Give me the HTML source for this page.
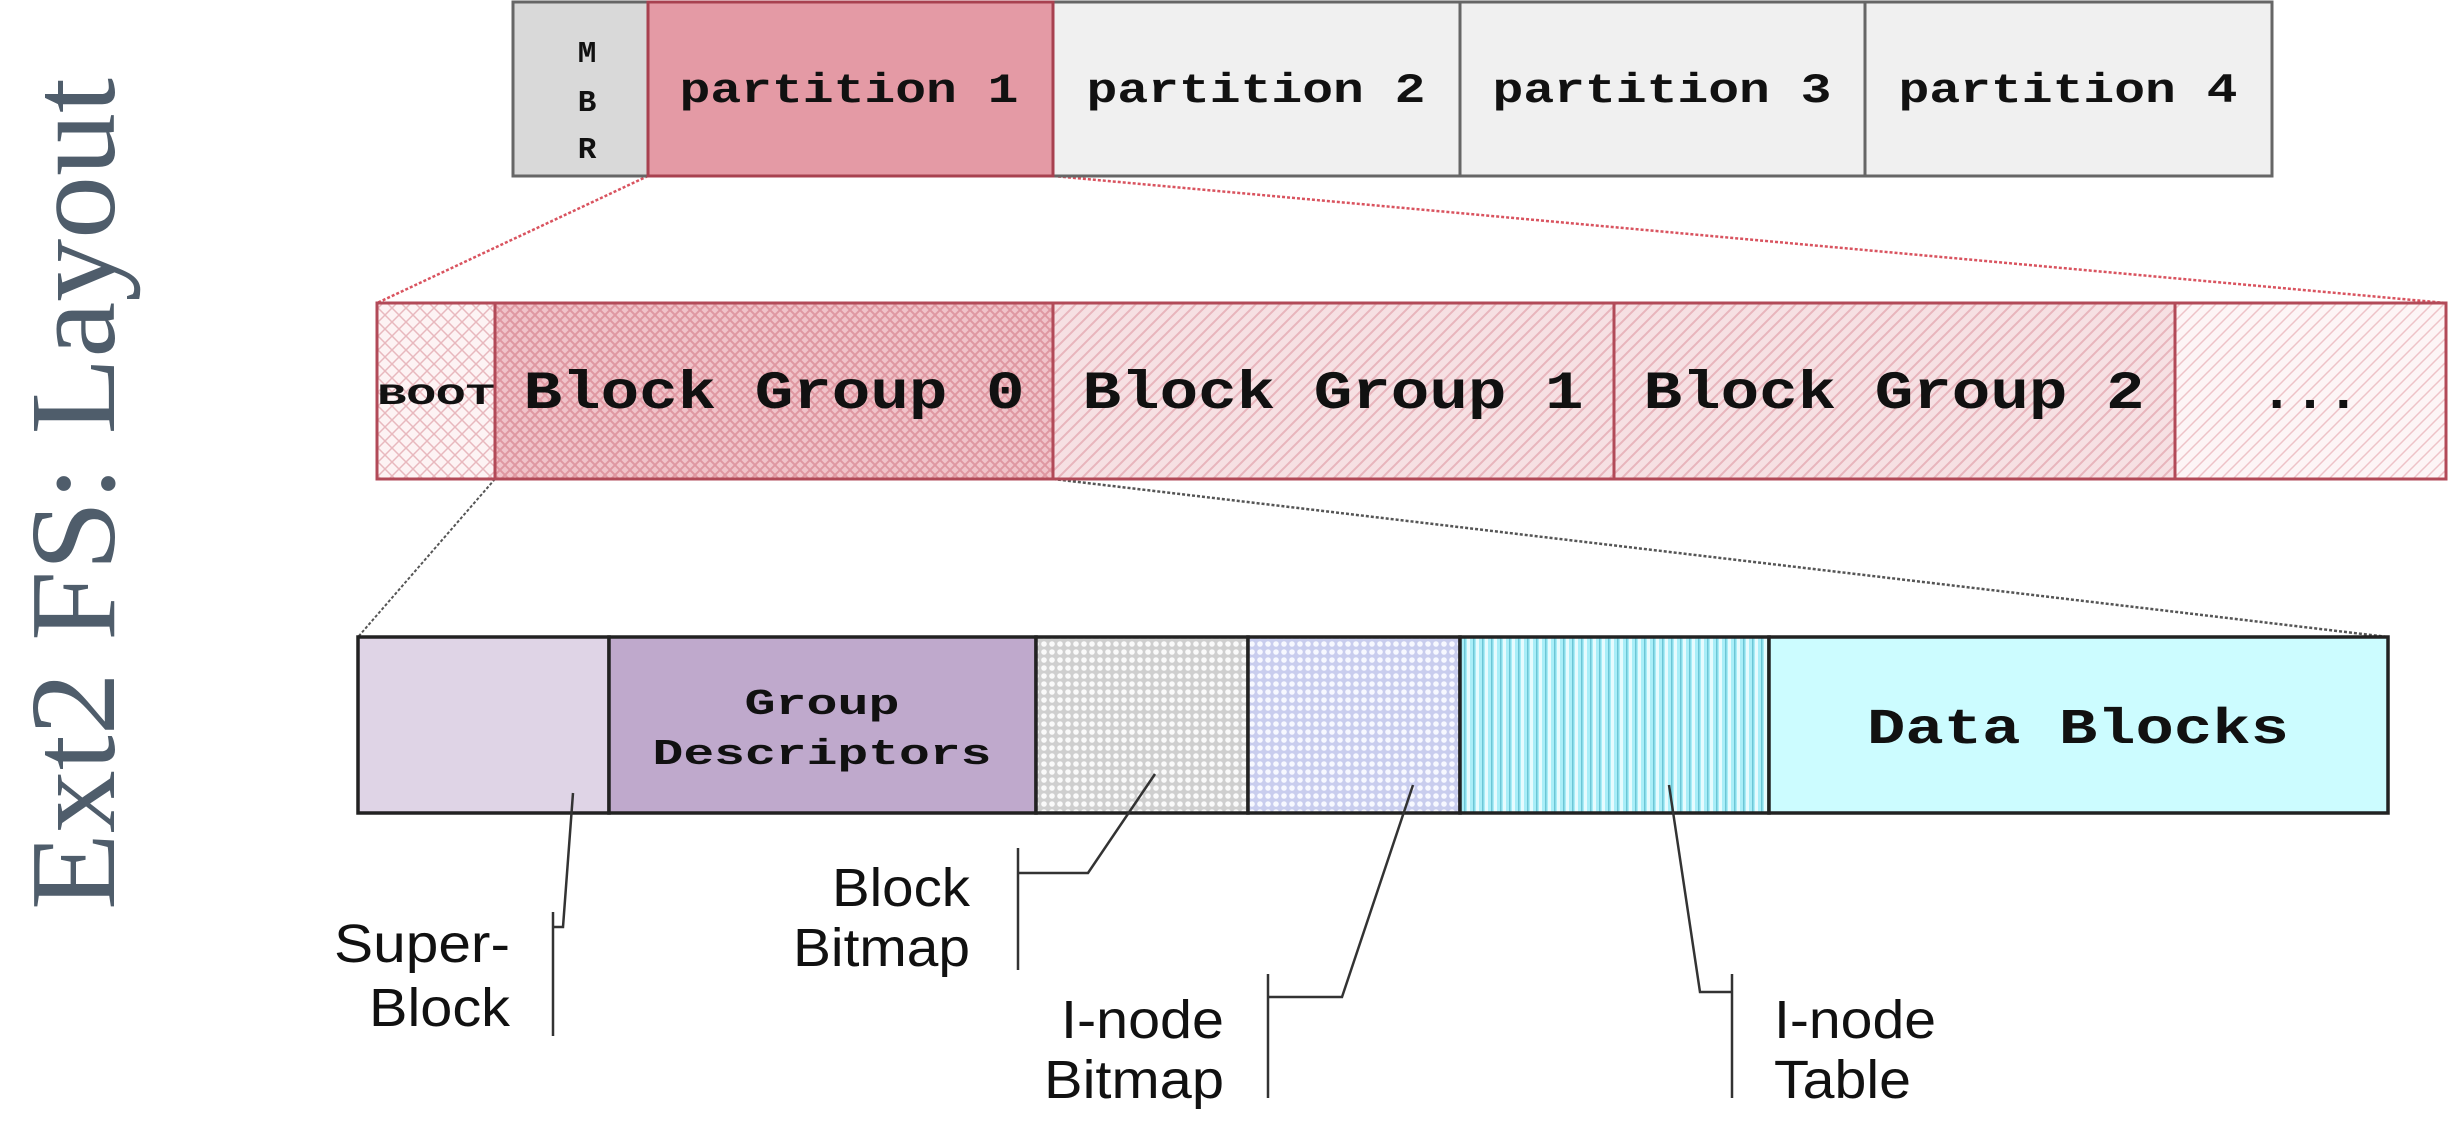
<!DOCTYPE html>
<html><head><meta charset="utf-8"><style>
html,body{margin:0;padding:0;background:#fff;}
svg{display:block;}
.m{font-family:"Liberation Mono",monospace;font-weight:bold;fill:#111;}
.s{font-family:"Liberation Sans",sans-serif;fill:#111;}
</style></head><body>
<svg width="2462" height="1136" viewBox="0 0 2462 1136" xmlns="http://www.w3.org/2000/svg">
<defs>
<pattern id="xh" width="14" height="14" patternUnits="userSpaceOnUse">
<rect width="14" height="14" fill="#fdf3f4"/><path d="M0 0L14 14M14 0L0 14" stroke="#e8b8be" stroke-width="1.5"/></pattern>
<pattern id="xd" width="10" height="10" patternUnits="userSpaceOnUse">
<rect width="10" height="10" fill="#f0c3c9"/><path d="M0 0L10 10M10 0L0 10" stroke="#df97a1" stroke-width="2"/></pattern>
<pattern id="dg" width="12" height="12" patternUnits="userSpaceOnUse">
<rect width="12" height="12" fill="#f6e0e3"/><path d="M-3 3L3 -3M0 12L12 0M9 15L15 9" stroke="#e8b5bc" stroke-width="2"/></pattern>
<pattern id="dw" width="12" height="12" patternUnits="userSpaceOnUse">
<rect width="12" height="12" fill="#fdf5f6"/><path d="M-3 3L3 -3M0 12L12 0M9 15L15 9" stroke="#eec3c8" stroke-width="1.5"/></pattern>
<pattern id="bb" width="8" height="8" patternUnits="userSpaceOnUse">
<rect width="8" height="8" fill="#cfcfcf"/><circle cx="4" cy="4" r="2.8" fill="#fafafa"/></pattern>
<pattern id="ib" width="8" height="8" patternUnits="userSpaceOnUse">
<rect width="8" height="8" fill="#c9cdee"/><circle cx="4" cy="4" r="2.8" fill="#f7f8ff"/></pattern>
<pattern id="it" width="9" height="10" patternUnits="userSpaceOnUse">
<rect width="9" height="10" fill="#a9eef8"/><rect x="0" width="3" height="10" fill="#e6fbfe"/><rect x="6" width="1.5" height="10" fill="#6cc6d6"/></pattern>
</defs>

<text transform="translate(114,910) rotate(-90)" font-family="Liberation Serif,serif" font-size="122" fill="#4f5d6b" textLength="832" lengthAdjust="spacingAndGlyphs">Ext2 FS: Layout</text>

<!-- connectors -->
<line x1="648" y1="176" x2="377" y2="303" stroke="#d9535f" stroke-width="2.5" stroke-dasharray="3,2"/>
<line x1="1053" y1="176" x2="2446" y2="303" stroke="#d9535f" stroke-width="2.5" stroke-dasharray="3,2"/>
<line x1="495" y1="479" x2="358" y2="637" stroke="#555" stroke-width="2" stroke-dasharray="3,2"/>
<line x1="1053" y1="479" x2="2388" y2="637" stroke="#555" stroke-width="2.5" stroke-dasharray="3,2"/>

<!-- top bar -->
<g stroke="#666" stroke-width="3">
<rect x="513" y="2" width="135" height="174" fill="#d9d9d9"/>
<rect x="1053" y="2" width="407" height="174" fill="#f0f0f0"/>
<rect x="1460" y="2" width="405" height="174" fill="#f0f0f0"/>
<rect x="1865" y="2" width="407" height="174" fill="#f0f0f0"/>
</g>
<rect x="648" y="2" width="405" height="174" fill="#e49aa5" stroke="#a84150" stroke-width="3"/>
<g class="m" font-size="31" text-anchor="middle">
<text x="587" y="62">M</text><text x="587" y="111">B</text><text x="587" y="158">R</text></g>
<g class="m" font-size="42" text-anchor="middle">
<text x="849" y="102" textLength="339" lengthAdjust="spacingAndGlyphs">partition 1</text>
<text x="1256" y="102" textLength="339" lengthAdjust="spacingAndGlyphs">partition 2</text>
<text x="1662" y="102" textLength="339" lengthAdjust="spacingAndGlyphs">partition 3</text>
<text x="2068" y="102" textLength="339" lengthAdjust="spacingAndGlyphs">partition 4</text></g>

<!-- middle bar -->
<g stroke="#b24a58" stroke-width="3">
<rect x="377" y="303" width="118" height="176" fill="url(#xh)"/>
<rect x="495" y="303" width="558" height="176" fill="url(#xd)"/>
<rect x="1053" y="303" width="561" height="176" fill="url(#dg)"/>
<rect x="1614" y="303" width="561" height="176" fill="url(#dg)"/>
<rect x="2175" y="303" width="271" height="176" fill="url(#dw)"/>
</g>
<text class="m" x="436" y="404" font-size="30" text-anchor="middle" textLength="118" lengthAdjust="spacingAndGlyphs">BOOT</text>
<g class="m" font-size="54" text-anchor="middle">
<text x="774" y="408" textLength="501" lengthAdjust="spacingAndGlyphs">Block Group 0</text>
<text x="1333" y="408" textLength="501" lengthAdjust="spacingAndGlyphs">Block Group 1</text>
<text x="1894" y="408" textLength="501" lengthAdjust="spacingAndGlyphs">Block Group 2</text>
<text x="2310" y="408" textLength="100" lengthAdjust="spacingAndGlyphs">...</text></g>

<!-- bottom bar -->
<g stroke="#222" stroke-width="3.5">
<rect x="358" y="637" width="251" height="176" fill="#dfd4e6"/>
<rect x="609" y="637" width="427" height="176" fill="#bfa9cc"/>
<rect x="1036" y="637" width="212" height="176" fill="url(#bb)"/>
<rect x="1248" y="637" width="212" height="176" fill="url(#ib)"/>
<rect x="1460" y="637" width="309" height="176" fill="url(#it)"/>
<rect x="1769" y="637" width="619" height="176" fill="#ccfcff"/>
</g>
<g class="m" font-size="36" text-anchor="middle">
<text x="822" y="714" textLength="155" lengthAdjust="spacingAndGlyphs">Group</text>
<text x="822" y="764" textLength="339" lengthAdjust="spacingAndGlyphs">Descriptors</text></g>
<text class="m" x="2078" y="743" font-size="50" text-anchor="middle" textLength="422" lengthAdjust="spacingAndGlyphs">Data Blocks</text>

<!-- leaders -->
<g stroke="#333" stroke-width="2.5" fill="none">
<polyline points="573,793 563,927 553,927"/><line x1="553" y1="912" x2="553" y2="1036"/>
<polyline points="1155,774 1088,873 1018,873"/><line x1="1018" y1="848" x2="1018" y2="970"/>
<polyline points="1413,785 1342,997 1268,997"/><line x1="1268" y1="974" x2="1268" y2="1098"/>
<polyline points="1669,785 1700,992 1732,992"/><line x1="1732" y1="974" x2="1732" y2="1098"/>
</g>
<g class="s" font-size="54">
<text x="510" y="962" text-anchor="end" textLength="176" lengthAdjust="spacingAndGlyphs">Super-</text>
<text x="510" y="1026" text-anchor="end" textLength="141" lengthAdjust="spacingAndGlyphs">Block</text>
<text x="970" y="906" text-anchor="end" textLength="138" lengthAdjust="spacingAndGlyphs">Block</text>
<text x="970" y="966" text-anchor="end" textLength="177" lengthAdjust="spacingAndGlyphs">Bitmap</text>
<text x="1224" y="1038" text-anchor="end" textLength="163" lengthAdjust="spacingAndGlyphs">I-node</text>
<text x="1224" y="1098" text-anchor="end" textLength="180" lengthAdjust="spacingAndGlyphs">Bitmap</text>
<text x="1774" y="1038" textLength="162" lengthAdjust="spacingAndGlyphs">I-node</text>
<text x="1774" y="1098" textLength="137" lengthAdjust="spacingAndGlyphs">Table</text>
</g>
</svg>
</body></html>
